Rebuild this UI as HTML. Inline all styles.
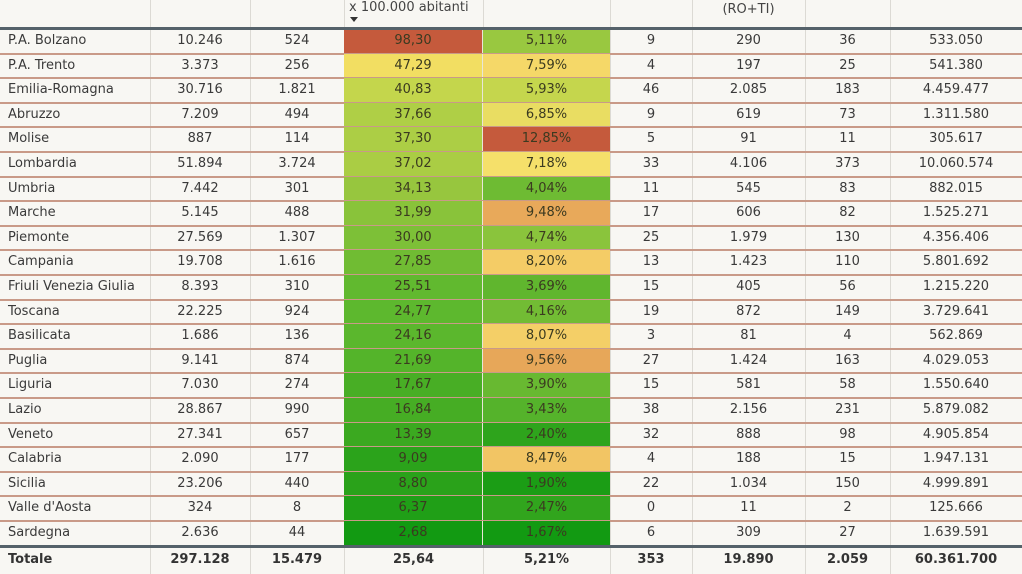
<!DOCTYPE html>
<html><head><meta charset="utf-8">
<style>
body{margin:0;background:#f8f7f3;width:1022px;height:574px;overflow:hidden;font-family:"DejaVu Sans","Liberation Sans",sans-serif;}
#t{position:absolute;left:0;top:0;width:1022px;height:574px;}
.c{position:absolute;font-size:13px;color:#3a3a3a;line-height:24px;text-align:center;white-space:nowrap;box-sizing:border-box;}
.vl{position:absolute;width:1px;background:#dcdad4;}
.hl{position:absolute;left:0;width:1022px;height:2px;background:#c99a88;}
</style></head><body>
<div id="t">
<div class="c" style="left:349px;top:-4px;text-align:left;color:#444">x 100.000 abitanti</div>
<div style="position:absolute;left:350px;top:17px;width:0;height:0;border-left:4px solid transparent;border-right:4px solid transparent;border-top:5px solid #333"></div>
<div class="c" style="left:692px;width:113px;top:-2px;color:#444">(RO+TI)</div>
</div>
<script>
const regions=["P.A. Bolzano","P.A. Trento","Emilia-Romagna","Abruzzo","Molise","Lombardia","Umbria","Marche","Piemonte","Campania","Friuli Venezia Giulia","Toscana","Basilicata","Puglia","Liguria","Lazio","Veneto","Calabria","Sicilia","Valle d'Aosta","Sardegna"];
const positives=["10.246","3.373","30.716","7.209","887","51.894","7.442","5.145","27.569","19.708","8.393","22.225","1.686","9.141","7.030","28.867","27.341","2.090","23.206","324","2.636"];
const newCases=["524","256","1.821","494","114","3.724","301","488","1.307","1.616","310","924","136","874","274","990","657","177","440","8","44"];
const ratePer100k=[98.30,47.29,40.83,37.66,37.30,37.02,34.13,31.99,30.00,27.85,25.51,24.77,24.16,21.69,17.67,16.84,13.39,9.09,8.80,6.37,2.68];
const positivePct=[5.11,7.59,5.93,6.85,12.85,7.18,4.04,9.48,4.74,8.20,3.69,4.16,8.07,9.56,3.90,3.43,2.40,8.47,1.90,2.47,1.67];
const deaths=["9","4","46","9","5","33","11","17","25","13","15","19","3","27","15","38","32","4","22","0","6"];
const hospitalized=["290","197","2.085","619","91","4.106","545","606","1.979","1.423","405","872","81","1.424","581","2.156","888","188","1.034","11","309"];
const icu=["36","25","183","73","11","373","83","82","130","110","56","149","4","163","58","231","98","15","150","2","27"];
const population=["533.050","541.380","4.459.477","1.311.580","305.617","10.060.574","882.015","1.525.271","4.356.406","5.801.692","1.215.220","3.729.641","562.869","4.029.053","1.550.640","5.879.082","4.905.854","1.947.131","4.999.891","125.666","1.639.591"];
const totals=["Totale","297.128","15.479","25,64","5,21%","353","19.890","2.059","60.361.700"];

const colX=[0,150,250,344,483,610,692,805,890,1022];
const top0=29, rowH=24.6;
const t=document.getElementById('t');
function hex(h){return [1,3,5].map(i=>parseInt(h.substr(i,2),16));}
function scale(stops,v){
  if(v<=stops[0][0])return stops[0][1];
  for(let i=1;i<stops.length;i++){if(v<=stops[i][0]){const a=stops[i-1],b=stops[i];const f=(v-a[0])/(b[0]-a[0]);const ca=hex(a[1]),cb=hex(b[1]);return 'rgb('+ca.map((x,k)=>Math.round(x+(cb[k]-x)*f)).join(',')+')';}}
  return stops[stops.length-1][1];
}
const rateStops=[[2.68,"#129a12"],[13,"#3aa820"],[25,"#5eb82e"],[34,"#96c63e"],[40.8,"#c4d64c"],[47.3,"#f2de62"],[98.3,"#c55a3c"]];
const pctStops=[[1.67,"#129a12"],[3.5,"#58b42c"],[5.1,"#98c840"],[5.9,"#c4d64c"],[7.2,"#f6e06a"],[8.2,"#f4cc66"],[9.5,"#e8a85a"],[12.85,"#c55a3c"]];
function fmt(v,d){return v.toFixed(d).replace('.',',');}

for(let i=0;i<colX.length-1;i++){
  const v=document.createElement('div');v.className='vl';
  
  
  v.style.left=colX[i]+'px';v.style.top='0px';v.style.height='574px';
  if(i>0)t.appendChild(v);
}
regions.forEach((r,i)=>{
  const y=top0+i*rowH;
  const vals=[r,positives[i],newCases[i],fmt(ratePer100k[i],2),fmt(positivePct[i],2)+'%',deaths[i],hospitalized[i],icu[i],population[i]];
  vals.forEach((v,j)=>{
    const c=document.createElement('div');c.className='c';
    
    
    c.style.left=colX[j]+'px';c.style.width=(colX[j+1]-colX[j])+'px';
    c.style.top=y+'px';c.style.height=rowH+'px';c.style.lineHeight=rowH+'px';
    if(j===0){c.style.textAlign='left';c.style.paddingLeft='8px';}
    if(j===3){c.style.background=scale(rateStops,ratePer100k[i]);c.style.color='#3b3a20';c.style.borderRight='1px solid #e8e6d8';}
    if(j===4){c.style.background=scale(pctStops,positivePct[i]);c.style.color='#3b3a20';}
    c.textContent=v;t.appendChild(c);
  });
  const h=document.createElement('div');h.className='hl';
  
  
  h.style.top=(y+rowH-1)+'px';
  if(i<regions.length-1)t.appendChild(h);
});
const hb=document.createElement('div');


hb.style.cssText='position:absolute;left:0;width:1022px;top:'+(top0-2)+'px;height:3px;background:#55626a';
t.appendChild(hb);
const tb=document.createElement('div');


const ty=top0+regions.length*rowH;
tb.style.cssText='position:absolute;left:0;width:1022px;top:'+(ty-1)+'px;height:3px;background:#55626a';
t.appendChild(tb);
totals.forEach((v,j)=>{
  const c=document.createElement('div');c.className='c';
  
  
  c.style.left=colX[j]+'px';c.style.width=(colX[j+1]-colX[j])+'px';
  c.style.top=(ty+2)+'px';c.style.height='24px';c.style.fontWeight='bold';c.style.color='#333';
  if(j===0){c.style.textAlign='left';c.style.paddingLeft='8px';}
  c.textContent=v;t.appendChild(c);
});
</script>
</body></html>
